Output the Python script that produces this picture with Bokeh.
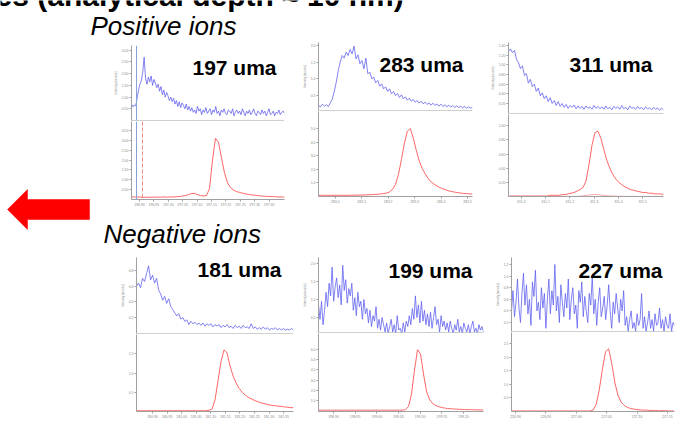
import numpy as np
from bokeh.plotting import figure
from bokeh.layouts import column, row
from bokeh.models import (Range1d, FixedTicker, NumeralTickFormatter, Label, Span, Spacer,
                          BoxAnnotation)
from bokeh.embed import file_html
from bokeh.resources import INLINE

FONT = "Liberation Sans"
BLUE = "#6262f0"
RED = "#ff5454"
AXIS = "#a0a0a0"
TICK_TXT = "#8a8a8a"
FRAME_EDGE = "#c3cddf"

# ---------------- data ----------------
title_text = "es (analytical depth \u2248 10 nm)"
header_pos = "Positive ions"
header_neg = "Negative ions"
blue_axis_title = "Intensity (counts)"
red_axis_scale = "x10\u2075"

# Panel A : 197 uma
a_name = "197 uma"
a_xlim = [196.8722, 197.4035]
a_xticks = [196.90, 196.95, 197.00, 197.05, 197.10, 197.15, 197.20, 197.25, 197.30, 197.35]
a_blue_yticks = [0.5, 1.0, 1.5, 2.0, 2.5, 3.0]
a_red_yticks = [0.5, 1.0, 1.5, 2.0, 2.5, 3.0, 3.5]
a_blue = [0.70, 0.58, 0.66, 0.62, 0.95, 1.30, 1.55, 1.70,
          2.05, 2.70, 1.80, 1.55, 1.85, 1.65, 1.90, 1.50, 1.75, 1.60,
          1.40, 1.55, 1.25, 1.45, 1.10, 1.30, 1.00, 1.20, 1.05, 0.85, 1.00,
          0.80, 0.95, 0.70, 0.85, 0.60, 0.80, 0.55, 0.75, 0.65, 0.50, 0.70, 0.45, 0.60, 0.40,
          0.55, 0.35, 0.45, 0.30, 0.60, 0.40, 0.50, 0.25, 0.45, 0.35,
          0.55, 0.30, 0.40, 0.50, 0.25, 0.45, 0.35, 0.60, 0.30, 0.40,
          0.20, 0.45, 0.35, 0.50, 0.30, 0.25, 0.45, 0.40, 0.30, 0.50,
          0.20, 0.35, 0.45, 0.30, 0.40, 0.25, 0.50, 0.35, 0.20, 0.40,
          0.30, 0.45, 0.25, 0.35, 0.50, 0.30, 0.20, 0.40, 0.35, 0.25,
          0.45, 0.30, 0.40, 0.20, 0.35, 0.50, 0.25, 0.30, 0.40, 0.20,
          0.35, 0.30, 0.45, 0.25, 0.35, 0.40, 0.30]
a_red = [0.14, 0.12, 0.13, 0.12, 0.11, 0.12, 0.11, 0.12, 0.11, 0.12,
         0.12, 0.13, 0.12, 0.13, 0.13, 0.14, 0.15, 0.17, 0.20, 0.25,
         0.30, 0.31, 0.25, 0.20, 0.18, 0.20, 0.55, 2.00, 3.10, 2.90,
         2.10, 1.35, 0.85, 0.60, 0.48, 0.40, 0.36, 0.32, 0.28, 0.26,
         0.23, 0.22, 0.20, 0.18, 0.17, 0.16, 0.15, 0.15, 0.14, 0.13,
         0.13, 0.12]
a_marker_blue = 196.8896
a_marker_red = 196.9104

# Panel B : 283 uma
b_name = "283 uma"
b_xlim = [282.9366, 283.5187]
b_xticks = [283.0, 283.1, 283.2, 283.3, 283.4, 283.5]
b_blue_yticks = [0.5, 1.0, 1.5, 2.0]
b_red_yticks = [1.0, 2.0, 3.0, 4.0, 5.0]
b_blue = [0.20, 0.16, 0.24, 0.18, 0.22, 0.17, 0.28, 0.40, 0.62, 0.90,
          1.25, 1.50, 1.70, 1.62, 1.80, 1.70, 1.88, 1.75, 1.98, 1.60,
          1.72, 1.45, 1.55, 1.30, 1.62, 1.15, 1.20, 1.00, 1.05, 0.88,
          0.95, 0.78, 0.85, 0.70, 0.76, 0.62, 0.70, 0.55, 0.62, 0.50,
          0.56, 0.44, 0.52, 0.40, 0.46, 0.36, 0.42, 0.33, 0.38, 0.30,
          0.35, 0.27, 0.33, 0.25, 0.30, 0.23, 0.28, 0.21, 0.27, 0.20,
          0.25, 0.18, 0.24, 0.17, 0.22, 0.16, 0.21, 0.15, 0.20, 0.14,
          0.19, 0.14, 0.18, 0.13, 0.17, 0.12, 0.16, 0.12, 0.15]
b_red = [0.05, 0.05, 0.05, 0.05, 0.05, 0.05, 0.05, 0.05, 0.05, 0.05,
         0.05, 0.06, 0.06, 0.06, 0.07, 0.07, 0.08, 0.09, 0.10, 0.11,
         0.13, 0.15, 0.18, 0.22, 0.30, 0.50, 0.85, 1.60, 2.70, 3.90,
         4.80, 5.00, 4.30, 3.40, 2.60, 2.05, 1.65, 1.30, 1.05, 0.88,
         0.74, 0.62, 0.53, 0.45, 0.38, 0.33, 0.29, 0.25, 0.22, 0.19,
         0.17, 0.16, 0.15]

# Panel C : 311 uma
c_name = "311 uma"
c_xlim = [310.947, 311.586]
c_xticks = [311.0, 311.1, 311.2, 311.3, 311.4, 311.5]
c_blue_yticks = [0.2, 0.4, 0.6, 0.8, 1.0, 1.2, 1.4]
c_red_yticks = [0.2, 0.4, 0.6, 0.8, 1.0]
c_blue = [1.28, 1.33, 1.25, 1.30, 1.12, 1.05, 0.92, 0.98, 0.78, 0.82,
          0.62, 0.70, 0.55, 0.60, 0.45, 0.52, 0.36, 0.42, 0.30, 0.36,
          0.24, 0.32, 0.20, 0.26, 0.16, 0.24, 0.14, 0.20, 0.12, 0.18,
          0.10, 0.16, 0.12, 0.17, 0.09, 0.15, 0.10, 0.14, 0.08, 0.15,
          0.10, 0.13, 0.08, 0.16, 0.10, 0.14, 0.09, 0.13, 0.08, 0.15,
          0.09, 0.12, 0.07, 0.14, 0.10, 0.13, 0.08, 0.16, 0.09, 0.12,
          0.07, 0.15, 0.10, 0.12, 0.08, 0.14, 0.09, 0.12, 0.07, 0.13,
          0.09, 0.11, 0.07, 0.12, 0.08, 0.11, 0.06, 0.10, 0.07]
c_red = [0.01, 0.01, 0.01, 0.01, 0.01, 0.01, 0.01, 0.01, 0.01, 0.01,
         0.01, 0.01, 0.01, 0.01, 0.02, 0.02, 0.02, 0.02, 0.03, 0.03,
         0.04, 0.05, 0.06, 0.08, 0.10, 0.13, 0.22, 0.45, 0.72, 0.90,
         0.92, 0.82, 0.66, 0.51, 0.40, 0.31, 0.25, 0.20, 0.17, 0.14,
         0.12, 0.10, 0.09, 0.08, 0.07, 0.06, 0.06, 0.05, 0.05, 0.04,
         0.04, 0.04, 0.03]
c_red_minor = [0.004, 0.004, 0.004, 0.004, 0.004, 0.004, 0.004, 0.004, 0.004, 0.004,
               0.004, 0.004, 0.004, 0.004, 0.004, 0.004, 0.004, 0.004, 0.004, 0.004,
               0.004, 0.004, 0.004, 0.006, 0.008, 0.012, 0.018, 0.024, 0.030, 0.032,
               0.030, 0.025, 0.020, 0.015, 0.012, 0.010, 0.008, 0.007, 0.006, 0.006,
               0.005, 0.005, 0.005, 0.005, 0.004, 0.004, 0.004, 0.004, 0.004, 0.004,
               0.004, 0.004, 0.004]

# Panel D : 181 uma
d_name = "181 uma"
d_xlim = [180.845, 181.384]
d_xticks = [180.90, 180.95, 181.00, 181.05, 181.10, 181.15, 181.20, 181.25, 181.30, 181.35]
d_blue_yticks = [0.2, 0.4, 0.6, 0.8]
d_red_yticks = [0.5, 1.0, 1.5]
d_blue = [0.60, 0.64, 0.58, 0.70, 0.66, 0.76, 0.86, 0.68, 0.74, 0.64,
          0.70, 0.55, 0.50, 0.42, 0.47, 0.38, 0.44, 0.34, 0.30, 0.26,
          0.22, 0.25, 0.18, 0.20, 0.15, 0.17, 0.11, 0.15, 0.12, 0.14,
          0.11, 0.13, 0.10, 0.13, 0.09, 0.12, 0.10, 0.12, 0.08, 0.11,
          0.09, 0.11, 0.07, 0.10, 0.08, 0.11, 0.07, 0.09, 0.06, 0.10,
          0.07, 0.09, 0.06, 0.10, 0.07, 0.08, 0.06, 0.12, 0.06, 0.08,
          0.05, 0.07, 0.05, 0.08, 0.05, 0.07, 0.04, 0.06, 0.05, 0.07,
          0.04, 0.06, 0.04, 0.06, 0.04, 0.05, 0.04, 0.06, 0.04]
d_red = [0.02, 0.02, 0.02, 0.02, 0.02, 0.02, 0.02, 0.02, 0.02, 0.02,
         0.02, 0.02, 0.02, 0.02, 0.02, 0.02, 0.02, 0.02, 0.02, 0.02,
         0.02, 0.02, 0.02, 0.02, 0.03, 0.06, 0.30, 0.80, 1.30, 1.60,
         1.52, 1.18, 0.92, 0.74, 0.60, 0.50, 0.43, 0.37, 0.33, 0.29,
         0.26, 0.23, 0.21, 0.19, 0.17, 0.16, 0.15, 0.14, 0.13, 0.12,
         0.11, 0.10, 0.10]

# Panel E : 199 uma
e_name = "199 uma"
e_xlim = [198.8654, 199.246]
e_xticks = [198.90, 198.95, 199.00, 199.05, 199.10, 199.15, 199.20]
e_blue_yticks = [0.5, 1.0, 1.5, 2.0]
e_red_yticks = [1.0, 2.0, 3.0, 4.0, 5.0, 6.0]
e_blue = [0.85, 0.45, 0.95, 0.30, 0.70,
          1.20, 0.80, 1.45, 1.10, 1.90, 0.95, 1.35, 1.60, 1.05, 1.40, 0.85, 1.95, 1.25, 1.55, 0.90, 1.30, 1.10,
          1.45, 0.70, 1.05, 0.55, 1.20, 0.80, 0.95, 0.45, 1.00, 0.60, 0.75,
          0.35, 0.70, 0.25, 0.55, 0.40, 0.80, 0.20, 0.45, 0.15, 0.50, 0.30,
          0.10, 0.35, 0.05, 0.25, 0.45, 0.10, 0.30, 0.05, 0.55, 0.15, 0.20, 0.05, 0.35, 0.10, 0.40, 0.25,
          0.55, 0.30, 0.75, 0.45, 1.10, 0.50, 0.85, 0.35, 0.95, 0.40, 0.70, 0.30, 0.60,
          0.25, 0.65, 0.20, 0.50, 0.80, 0.30, 0.45, 0.10, 0.55, 0.25, 0.40, 0.15, 0.35,
          0.10, 0.40, 0.20, 0.05, 0.30, 0.15, 0.45, 0.10, 0.25, 0.05, 0.35, 0.20,
          0.10, 0.30, 0.05, 0.25, 0.40, 0.10, 0.20, 0.05, 0.30, 0.15, 0.25, 0.10]
e_red = [0.03, 0.03, 0.03, 0.03, 0.03, 0.03, 0.03, 0.03, 0.03, 0.03,
         0.03, 0.03, 0.03, 0.03, 0.03, 0.03, 0.03, 0.03, 0.03, 0.03,
         0.03, 0.03, 0.03, 0.03, 0.03, 0.03, 0.03, 0.03, 0.03, 0.08,
         0.40, 1.60, 4.00, 6.00, 5.60, 3.60, 1.90, 1.10, 0.70, 0.50,
         0.38, 0.30, 0.24, 0.20, 0.17, 0.15, 0.13, 0.12, 0.10, 0.09,
         0.08, 0.08, 0.07, 0.06, 0.06, 0.05]

# Panel F : 227 uma
f_name = "227 uma"
f_xlim = [226.8934, 227.1616]
f_xticks = [226.90, 226.95, 227.00, 227.05, 227.10, 227.15]
f_blue_yticks = [0.2, 0.4, 0.6, 0.8, 1.0, 1.2]
f_red_yticks = [0.5, 1.0, 1.5, 2.0, 2.5]
f_blue = [0.40, 0.75, 0.30, 0.55, 0.95, 0.45, 0.20, 0.70, 1.05, 0.50,
          0.85, 0.35, 0.60, 0.15, 0.90, 0.65, 1.10, 0.40, 0.55, 0.25,
          0.80, 0.45, 0.70, 0.10, 0.60, 0.95, 0.35, 0.75, 0.50, 1.20,
          0.40, 0.65, 0.20, 0.85, 0.55, 0.30, 0.70, 0.45, 0.95, 0.25,
          0.60, 0.80, 0.35, 0.50, 0.10, 0.75, 0.55, 0.90, 0.30, 0.65,
          0.40, 0.20, 0.70, 0.50, 1.00, 0.35, 0.60, 0.15, 0.55, 0.80,
          0.30, 0.45, 0.65, 0.25, 0.50, 0.85, 0.40, 0.10, 0.55, 0.35,
          0.70, 0.45, 0.20, 0.60, 0.40, 0.75,
          0.15, 0.30, 0.05, 0.25, 0.40, 0.10, 0.20, 0.05, 0.35, 0.15,
          0.25, 0.70, 0.10, 0.30, 0.05, 0.20, 0.40, 0.10, 0.25, 0.05,
          0.35, 0.15, 0.20, 0.45, 0.10, 0.25, 0.05, 0.30, 0.15, 0.10,
          0.35, 0.05, 0.20, 0.15]
f_red = [0.02, 0.02, 0.02, 0.02, 0.02, 0.02, 0.02, 0.02, 0.02, 0.02,
         0.02, 0.02, 0.02, 0.02, 0.02, 0.02, 0.02, 0.02, 0.02, 0.02,
         0.02, 0.02, 0.02, 0.02, 0.02, 0.02, 0.05, 0.25, 0.80, 1.55,
         2.20, 2.30, 1.75, 1.05, 0.58, 0.34, 0.22, 0.15, 0.11, 0.09,
         0.07, 0.06, 0.05, 0.05, 0.04, 0.04, 0.03, 0.03, 0.03, 0.03,
         0.02, 0.02, 0.02]

# ---------------- layout / geometry (page pixel coordinates) ----------------
DIV_PAD = 1
TOP_Y0 = 40
BOT_Y0 = 255
MID = 0.35  # distance baseline -> text middle, in em


def cal_range(cal, f_top, f_bot):
    (v1, p1), (v2, p2) = cal
    k = (v2 - v1) / (p2 - p1)
    return (v1 + k * (f_bot - p1), v1 + k * (f_top - p1))


def style_axes(p, xticks, xfmt, yticks, yfmt):
    for ax in p.xaxis:
        ax.ticker = FixedTicker(ticks=xticks)
        ax.formatter = NumeralTickFormatter(format=xfmt)
    for ax in p.yaxis:
        ax.ticker = FixedTicker(ticks=yticks)
        ax.formatter = NumeralTickFormatter(format=yfmt)
    for ax in list(p.xaxis) + list(p.yaxis):
        ax.axis_line_color = AXIS
        ax.axis_line_width = 1
        ax.major_tick_line_color = AXIS
        ax.minor_tick_line_color = None
        ax.major_tick_out = 2
        ax.major_tick_in = 0
        ax.major_label_standoff = 1
        ax.major_label_text_font = FONT
        ax.major_label_text_font_size = "3.5px"
        ax.major_label_text_color = TICK_TXT


def base_fig(w, h, xlim, ylim, L, R, T, B, xaxis=True):
    p = figure(width=w, height=h, x_range=Range1d(*xlim), y_range=Range1d(*ylim),
               output_backend="svg", toolbar_location=None,
               x_axis_location="below" if xaxis else None,
               min_border_left=L, min_border_right=R, min_border_top=T, min_border_bottom=B)
    p.grid.visible = False
    p.outline_line_color = None
    p.background_fill_color = "white"
    p.border_fill_color = "white"
    return p


def build_panel(s, y0):
    w, L, R = s["w"], s["L"], s["R"]
    th, tp, bh, bp = s["top_h"], s["top_pad"], s["bot_h"], s["bot_pad"]
    t_top, t_bot = y0 + tp, y0 + th - DIV_PAD
    r_top, r_bot = y0 + th, y0 + th + bh - bp
    bylim = cal_range(s["blue_cal"], t_top, t_bot)
    rylim = cal_range(s["red_cal"], r_top, r_bot) if "red_cal" in s else s["red_lim"]

    top = base_fig(w, th, s["xlim"], bylim, L, R, tp, DIV_PAD, xaxis=False)
    style_axes(top, s["xticks"], s["xfmt"], s["blue_yticks"], s["blue_yfmt"])
    top.yaxis.axis_label = blue_axis_title
    top.yaxis.axis_label_text_font = FONT
    top.yaxis.axis_label_text_font_size = "3px"
    top.yaxis.axis_label_text_font_style = "normal"
    top.yaxis.axis_label_text_color = TICK_TXT
    top.yaxis.axis_label_standoff = 1
    top.add_layout(Span(location=bylim[0], dimension="width", line_color=AXIS, line_width=1))

    bot = base_fig(w, bh, s["xlim"], rylim, L, R, 0, bp)
    style_axes(bot, s["xticks"], s["xfmt"], s["red_yticks"], s["red_yfmt"])

    if "edge" in s:
        for p in (top, bot):
            p.add_layout(BoxAnnotation(left=s["edge"], right=s["edge"] + 1,
                                       left_units="screen", right_units="screen",
                                       fill_color=FRAME_EDGE, fill_alpha=1.0, line_color=None))

    if "marker_blue" in s:
        for p in (top, bot):
            p.add_layout(Span(location=s["marker_blue"], dimension="height",
                              line_color="#86a2d8", line_width=1))
        bot.add_layout(Span(location=s["marker_red"], dimension="height",
                            line_color="#f08a8a", line_width=1, line_dash="4 2"))

    xb = np.linspace(s["xlim"][0], s["xlim"][1], len(s["blue"]))
    top.line(xb, s["blue"], line_color=BLUE, line_width=0.8)
    if "red_minor" in s:
        xm = np.linspace(s["xlim"][0], s["xlim"][1], len(s["red_minor"]))
        bot.line(xm, s["red_minor"], line_color=RED, line_width=0.8, line_alpha=0.6)
    xr = np.linspace(s["xlim"][0], s["xlim"][1], len(s["red"]))
    bot.line(xr, s["red"], line_color=RED, line_width=0.9)

    bot.add_layout(Label(x=-11, y=(r_bot - r_top) - 3, x_units="screen", y_units="screen",
                         text=red_axis_scale, text_font=FONT, text_font_size="3.5px",
                         text_color=TICK_TXT, text_baseline="middle"))

    lx, base = s["label_at"]
    size = 21
    top.add_layout(Label(x=lx - L, y=t_bot - (base - MID * size), x_units="screen", y_units="screen",
                         text=s["name"], text_font=FONT, text_font_size=f"{size}px",
                         text_font_style="bold", text_color="black",
                         text_baseline="middle"))
    return column(top, bot, spacing=0)


panels_top = [
    dict(name=a_name, xlim=a_xlim, xticks=a_xticks, xfmt="0.00", blue=a_blue, red=a_red,
         blue_yticks=a_blue_yticks, blue_yfmt="0.00", red_yticks=a_red_yticks, red_yfmt="0.00",
         blue_cal=((0.0, 120), (3.2, 45)), red_cal=((0.0, 199), (4.0, 120)),
         marker_blue=a_marker_blue, marker_red=a_marker_red,
         w=200, L=31, R=16, top_h=81, top_pad=5, bot_h=89, bot_pad=11, label_at=(192 - 100, 74)),
    dict(name=b_name, xlim=b_xlim, xticks=b_xticks, xfmt="0.0", blue=b_blue, red=b_red,
         blue_yticks=b_blue_yticks, blue_yfmt="0.0", red_yticks=b_red_yticks, red_yfmt="0.0",
         blue_cal=((0.5, 95), (2.0, 45)), red_cal=((1.0, 182), (5.0, 128)), edge=-11,
         w=188, L=16, R=16, top_h=71, top_pad=2, bot_h=99, bot_pad=14, label_at=(377 - 300, 71)),
    dict(name=c_name, xlim=c_xlim, xticks=c_xticks, xfmt="0.0", blue=c_blue, red=c_red,
         red_minor=c_red_minor, edge=-10,
         blue_yticks=c_blue_yticks, blue_yfmt="0.00", red_yticks=c_red_yticks, red_yfmt="0.00",
         blue_cal=((0.2, 103), (1.4, 45)), red_cal=((0.2, 182), (1.0, 125)),
         w=187, L=19, R=12, top_h=74, top_pad=2, bot_h=96, bot_pad=14, label_at=(568 - 488, 71)),
]
panels_bot = [
    dict(name=d_name, xlim=d_xlim, xticks=d_xticks, xfmt="0.00", blue=d_blue, red=d_red,
         blue_yticks=d_blue_yticks, blue_yfmt="0.0", red_yticks=d_red_yticks, red_yfmt="0.0",
         blue_cal=((0.2, 317), (0.8, 270)), red_lim=(0.0, 2.0), edge=-10,
         w=182, L=18, R=7, top_h=79, top_pad=2, bot_h=86, bot_pad=8, label_at=(197 - 118, 276)),
    dict(name=e_name, xlim=e_xlim, xticks=e_xticks, xfmt="0.00", blue=e_blue, red=e_red,
         blue_yticks=e_blue_yticks, blue_yfmt="0.0", red_yticks=e_red_yticks, red_yfmt="0.0",
         blue_cal=((0.5, 317), (2.0, 263)), red_lim=(-0.1, 7.6),
         w=188, L=18, R=5, top_h=78, top_pad=2, bot_h=87, bot_pad=8, label_at=(388 - 300, 277)),
    dict(name=f_name, xlim=f_xlim, xticks=f_xticks, xfmt="0.00", blue=f_blue, red=f_red,
         blue_yticks=f_blue_yticks, blue_yfmt="0.0", red_yticks=f_red_yticks, red_yfmt="0.0",
         blue_cal=((0.2, 322), (1.2, 264)), red_lim=(0.0, 2.9), edge=-11,
         w=187, L=23, R=1, top_h=77, top_pad=2, bot_h=88, bot_pad=8, label_at=(578 - 488, 277)),
]


def plain_fig(w, h, xlim, ylim):
    p = figure(width=w, height=h, x_range=Range1d(*xlim), y_range=Range1d(*ylim),
               output_backend="svg", toolbar_location=None,
               x_axis_location=None, y_axis_location=None, min_border=0)
    p.grid.visible = False
    p.outline_line_color = None
    return p


def text_at(p, x, baseline, text, size, style):
    p.add_layout(Label(x=x, y=baseline - MID * size, text=text, text_font=FONT,
                       text_font_size=f"{size}px", text_font_style=style,
                       text_color="black", text_baseline="middle"))


# header strip: cut-off slide title + "Positive ions"
hdr1 = plain_fig(675, 40, (0, 675), (40, 0))
text_at(hdr1, -5, 5, title_text, 30, "bold")
text_at(hdr1, 90, 35, header_pos, 26, "italic")

# left block with the red arrow
left = plain_fig(100, 215, (0, 100), (255, 40))
tip_x, tip_y, head_len, head_half, shaft_half, tail_x = 7, 209, 20, 20, 10, 89
left.patch([tip_x, tip_x + head_len, tip_x + head_len, tail_x, tail_x, tip_x + head_len, tip_x + head_len],
           [tip_y, tip_y - head_half, tip_y - shaft_half, tip_y - shaft_half, tip_y + shaft_half,
            tip_y + shaft_half, tip_y + head_half],
           fill_color="#ff0000", line_color="#ff0000", line_width=0.5)

# header "Negative ions"
hdr2 = plain_fig(575, 45, (100, 675), (255, 210))
text_at(hdr2, 103, 243, header_neg, 26, "italic")

top_cols = [build_panel(s, TOP_Y0) for s in panels_top]
bot_cols = [build_panel(s, BOT_Y0) for s in panels_bot]

layout = column(
    hdr1,
    row(left, column(row(*top_cols, spacing=0), hdr2, spacing=0), spacing=0),
    row(Spacer(width=118, height=165), *bot_cols, spacing=0),
    spacing=0,
)

open("out.html", "w").write(file_html(layout, INLINE))
